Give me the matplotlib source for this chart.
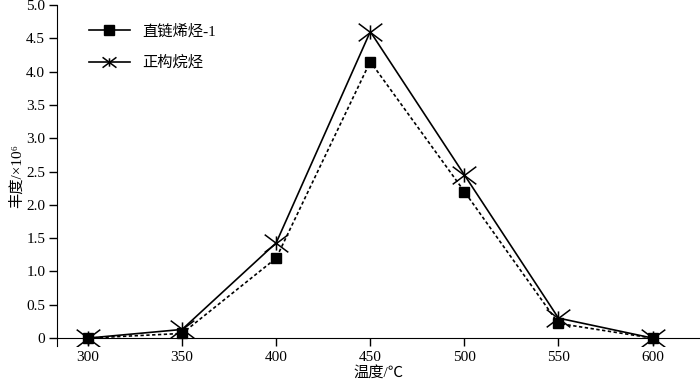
import numpy as np
import matplotlib
matplotlib.use("Agg")
from matplotlib import pyplot as plt
from matplotlib.path import Path
from matplotlib.lines import Line2D

plt.rcParams['font.family'] = ['Liberation Serif', 'Noto Sans CJK SC', 'DejaVu Sans']

temps = [300, 350, 400, 450, 500, 550, 600]
alkene = [0, 0.07, 1.2, 4.15, 2.2, 0.22, 0]       # 直链烯烃-1
alkane = [0, 0.13, 1.43, 4.6, 2.45, 0.3, 0]       # 正构烷烃
yticks = [0, 0.5, 1.0, 1.5, 2.0, 2.5, 3.0, 3.5, 4.0, 4.5, 5.0]
ytick_labels = ["0", "0.5", "1.0", "1.5", "2.0", "2.5", "3.0", "3.5", "4.0", "4.5", "5.0"]

# asterisk: wide X plus short vertical stroke
star = Path([(-1, -0.75), (1, 0.75), (-1, 0.75), (1, -0.75), (0, -0.6), (0, 0.6)],
            [Path.MOVETO, Path.LINETO, Path.MOVETO, Path.LINETO, Path.MOVETO, Path.LINETO])

fig = plt.figure(figsize=(7, 3.82), dpi=100)
ax = fig.add_axes([0.0814, 0.094, 0.918, 0.893])

ax.plot(temps, alkene, color="black", linestyle=(0, (2, 1.5)), linewidth=1.2,
        marker="s", markersize=7)
ax.plot(temps, alkane, color="black", linestyle="-", linewidth=1.2,
        marker=star, markersize=17, markeredgewidth=1.1, markerfacecolor="none")

ax.set_xlim(283.5, 625)
ax.set_ylim(-0.12, 5.0)
ax.set_xticks(temps)
ax.set_yticks(yticks)
ax.set_yticklabels(ytick_labels)
ax.spines['top'].set_visible(False)
ax.spines['right'].set_visible(False)
ax.spines['bottom'].set_position(('data', 0))
ax.tick_params(direction="out", length=5.5, width=1, labelsize=11)
ax.tick_params(axis="x", pad=4)
ax.tick_params(axis="y", pad=3)

ax.set_xlabel("温度/℃", fontsize=11)
ax.xaxis.set_label_coords(0.5, -0.058)
ax.set_ylabel("丰度/×10⁶", fontsize=11)
ax.yaxis.set_label_coords(-0.052, 0.5)

handles = [
    Line2D([], [], color="black", linewidth=1.2, marker="s", markersize=7),
    Line2D([], [], color="black", linewidth=1.2, marker=star, markersize=10,
           markeredgewidth=1.1, markerfacecolor="none"),
]
ax.legend(handles, ["直链烯烃-1", "正构烷烃"], loc="upper left",
          bbox_to_anchor=(0.028, 0.985), frameon=False,
          fontsize=11, handlelength=2.7, handletextpad=0.8, labelspacing=1.1)

plt.savefig("out.png", dpi=100)
